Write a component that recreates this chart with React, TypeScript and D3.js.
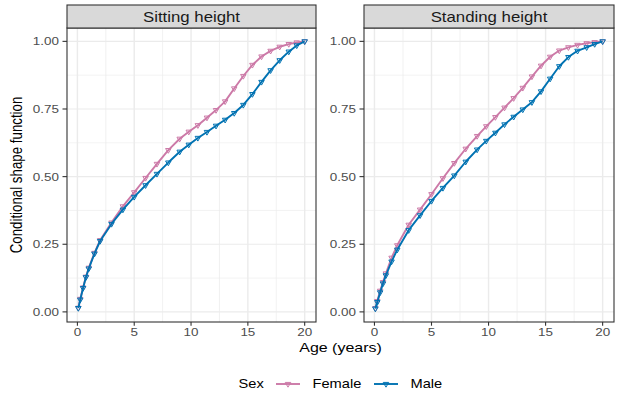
import React, { useRef, useEffect } from 'react';
import * as d3 from 'd3';

// ages at which the shape function is evaluated
const ages = [0.08, 0.25, 0.5, 0.75, 1, 1.5, 2, 3, 4, 5, 6, 7, 8, 9, 9.8, 10.6, 11.4, 12.2, 13, 13.8, 14.6, 15.4, 16.2, 17, 17.8, 18.6, 19.3, 20];

const sittingFemale = [0.015, 0.048, 0.09, 0.13, 0.163, 0.218, 0.265, 0.33, 0.39, 0.442, 0.495, 0.547, 0.598, 0.64, 0.666, 0.69, 0.718, 0.746, 0.778, 0.826, 0.872, 0.913, 0.944, 0.965, 0.98, 0.99, 0.996, 1.0];
const sittingMale = [0.014, 0.045, 0.088, 0.128, 0.16, 0.215, 0.262, 0.325, 0.378, 0.425, 0.468, 0.51, 0.552, 0.592, 0.618, 0.643, 0.665, 0.688, 0.71, 0.735, 0.765, 0.805, 0.85, 0.893, 0.93, 0.962, 0.985, 1.0];
const standingFemale = [0.014, 0.04, 0.078, 0.11, 0.142, 0.2, 0.246, 0.322, 0.378, 0.435, 0.494, 0.55, 0.603, 0.65, 0.686, 0.72, 0.755, 0.79, 0.828, 0.87, 0.91, 0.943, 0.966, 0.978, 0.987, 0.993, 0.997, 1.0];
const standingMale = [0.012, 0.036, 0.072, 0.105, 0.135, 0.186, 0.23, 0.302, 0.357, 0.41, 0.458, 0.504, 0.555, 0.6, 0.632, 0.662, 0.693, 0.721, 0.748, 0.775, 0.815, 0.862, 0.908, 0.942, 0.965, 0.978, 0.99, 1.0];

const panels = ['Sitting height', 'Standing height'];
const sexes = ['Female', 'Male'];
const xTicks = [0, 5, 10, 15, 20];
const xMinor = [2.5, 7.5, 12.5, 17.5];
const yTicks = [0, 0.25, 0.5, 0.75, 1];
const yMinor = [0.125, 0.375, 0.625, 0.875];

const colores: Record<string, string> = { Female: '#CC79A7', Male: '#0072B2' };
const FONT = '"Liberation Sans", Arial, Helvetica, sans-serif';
const SX = 1.2; // the picture is stretched sideways

type Sel = d3.Selection<SVGGElement, unknown, null, undefined>;

const texto = (g: Sel, x: number, y: number, s: string, size: number, anchor: string, fill: string) => {
  g.append('text')
    .attr('transform', `translate(${x},${y}) scale(${SX},1)`)
    .attr('text-anchor', anchor)
    .style('font-family', FONT)
    .style('font-size', `${size}px`)
    .attr('fill', fill)
    .text(s);
};

const App: React.FC = () => {
  const svgRef = useRef<SVGSVGElement | null>(null);

  useEffect(() => {
    if (!svgRef.current) return;
    document.body.style.margin = '0';

    const width = 623;
    const height = 409;
    const svg = d3.select<SVGSVGElement, unknown>(svgRef.current)
      .attr('width', width)
      .attr('height', height)
      .style('background', '#fff');
    svg.selectAll('*').remove();
    const root = svg.append('g') as unknown as Sel;

    const series = [
      { Female: sittingFemale, Male: sittingMale },
      { Female: standingFemale, Male: standingMale },
    ];

    const [x0, x1] = d3.extent(ages) as [number, number];
    const xPad = (x1 - x0) * 0.05;
    const todos = [...sittingFemale, ...sittingMale, ...standingFemale, ...standingMale];
    const [y0, y1] = d3.extent(todos) as [number, number];
    const yPad = (y1 - y0) * 0.05;

    const panelX = [[67, 316], [364, 614]];
    const top = 28;
    const bottom = 322;
    const y = d3.scaleLinear().domain([y0 - yPad, y1 + yPad]).range([bottom, top]);
    const fmt = d3.format('.2f');

    panels.forEach((nombre, p) => {
      const [left, right] = panelX[p];
      const x = d3.scaleLinear().domain([x0 - xPad, x1 + xPad]).range([left, right]);
      const g = root.append('g');

      // grid
      g.selectAll('line.ymin').data(yMinor).enter().append('line')
        .attr('x1', left).attr('x2', right).attr('y1', (d) => y(d)).attr('y2', (d) => y(d))
        .attr('stroke', '#EBEBEB').attr('stroke-width', 0.6);
      g.selectAll('line.xmin').data(xMinor).enter().append('line')
        .attr('x1', (d) => x(d)).attr('x2', (d) => x(d)).attr('y1', top).attr('y2', bottom)
        .attr('stroke', '#EBEBEB').attr('stroke-width', 0.7);
      g.selectAll('line.ymaj').data(yTicks).enter().append('line')
        .attr('x1', left).attr('x2', right).attr('y1', (d) => y(d)).attr('y2', (d) => y(d))
        .attr('stroke', '#EBEBEB').attr('stroke-width', 1.2);
      g.selectAll('line.xmaj').data(xTicks).enter().append('line')
        .attr('x1', (d) => x(d)).attr('x2', (d) => x(d)).attr('y1', top).attr('y2', bottom)
        .attr('stroke', '#EBEBEB').attr('stroke-width', 1.4);

      // lines and points
      sexes.forEach((sexo) => {
        const vals = (series[p] as Record<string, number[]>)[sexo];
        const pts = ages.map((a, i) => [a, vals[i]] as [number, number]);
        const linea = d3.line<[number, number]>().x((d) => x(d[0])).y((d) => y(d[1]));
        g.append('path').attr('d', linea(pts) as string)
          .attr('fill', 'none').attr('stroke', colores[sexo]).attr('stroke-width', 1.9)
          .attr('stroke-linejoin', 'round');
        const tri = d3.symbol(d3.symbolTriangle, 13)();
        g.selectAll(`path.pt${sexo}`).data(pts).enter().append('path')
          .attr('d', tri as string)
          .attr('transform', (d) => `translate(${x(d[0])},${y(d[1])}) rotate(180)`)
          .attr('fill', 'none').attr('stroke', colores[sexo]).attr('stroke-width', 1);
      });

      // border
      g.append('rect').attr('x', left).attr('y', top).attr('width', right - left).attr('height', bottom - top)
        .attr('fill', 'none').attr('stroke', '#333333').attr('stroke-width', 1.1);

      // strip
      g.append('rect').attr('x', left).attr('y', 5).attr('width', right - left).attr('height', top - 5)
        .attr('fill', '#D9D9D9').attr('stroke', '#333333').attr('stroke-width', 1.1);
      texto(g, (left + right) / 2, 21.5, nombre, 14, 'middle', '#1A1A1A');

      // x axis
      xTicks.forEach((t) => {
        g.append('line').attr('x1', x(t)).attr('x2', x(t)).attr('y1', bottom).attr('y2', bottom + 3.7)
          .attr('stroke', '#333333').attr('stroke-width', 1.1);
        texto(g, x(t), bottom + 13.5, String(t), 11.2, 'middle', '#4D4D4D');
      });

      // y axis
      yTicks.forEach((t) => {
        g.append('line').attr('x1', left - 4.5).attr('x2', left).attr('y1', y(t)).attr('y2', y(t))
          .attr('stroke', '#333333').attr('stroke-width', 1.1);
        texto(g, left - 8, y(t) + 4, fmt(t), 11.2, 'end', '#4D4D4D');
      });
    });

    // axis titles
    texto(root, (67 + 614) / 2, 351.5, 'Age (years)', 13.3, 'middle', '#000');
    root.append('text')
      .attr('transform', `translate(22,${(top + bottom) / 2}) rotate(-90) scale(1,${SX})`)
      .attr('text-anchor', 'middle')
      .style('font-family', FONT)
      .style('font-size', '13.3px')
      .text('Conditional shape function');

    // legend
    const ly = 384;
    texto(root, 238.5, ly + 4.3, 'Sex', 12.2, 'start', '#000');
    const keyX = [276, 374];
    sexes.forEach((sexo, i) => {
      const kx = keyX[i];
      root.append('line').attr('x1', kx).attr('x2', kx + 24).attr('y1', ly).attr('y2', ly)
        .attr('stroke', colores[sexo]).attr('stroke-width', 1.9);
      root.append('path').attr('d', d3.symbol(d3.symbolTriangle, 13)() as string)
        .attr('transform', `translate(${kx + 12},${ly}) rotate(180)`)
        .attr('fill', 'none').attr('stroke', colores[sexo]).attr('stroke-width', 1);
      texto(root, kx + 36.5, ly + 4.3, sexo, 12.2, 'start', '#000');
    });
  }, []);

  return <svg ref={svgRef}></svg>;
};

export default App;
